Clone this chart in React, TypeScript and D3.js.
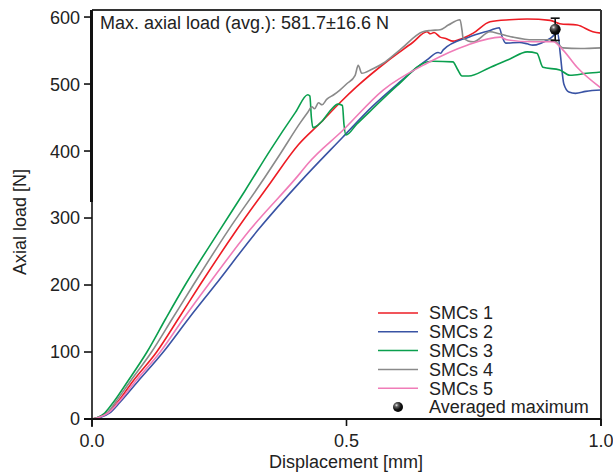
import React from "react";
import * as d3 from "d3";

type P = [number, number];

const smcs1: P[] = [[0,0],[0.01,2],[0.03,9],[0.05,25],[0.08,56],[0.127,100],[0.17,150],[0.212,200],[0.284,282],[0.35,352],[0.405,409],[0.45,443],[0.487,472],[0.52,496],[0.58,534],[0.63,562],[0.658,578],[0.665,575],[0.672,577],[0.684,570],[0.695,568],[0.709,564],[0.72,566],[0.749,576],[0.782,593],[0.82,596],[0.855,597],[0.9,595],[0.919,590],[0.953,588],[0.984,578],[1.0,576]];
const smcs2: P[] = [[0,0],[0.015,2],[0.035,9],[0.055,25],[0.09,56],[0.14,100],[0.19,150],[0.242,200],[0.326,282],[0.409,354],[0.493,421],[0.55,466],[0.6,500],[0.658,536],[0.68,547],[0.685,546],[0.69,551],[0.74,570],[0.782,580],[0.8,584],[0.806,570],[0.813,561],[0.84,562],[0.855,560],[0.866,558],[0.9,568],[0.915,576],[0.92,545],[0.927,500],[0.937,488],[0.95,486],[0.97,489],[1.0,491]];
const smcs3: P[] = [[0,0],[0.01,2],[0.025,9],[0.042,25],[0.07,56],[0.108,100],[0.145,150],[0.183,200],[0.251,282],[0.3,340],[0.35,401],[0.4,458],[0.424,484],[0.428,482],[0.431,450],[0.434,435],[0.45,443],[0.47,462],[0.483,470],[0.492,468],[0.495,440],[0.499,424],[0.52,440],[0.55,462],[0.6,498],[0.658,533],[0.67,534],[0.709,533],[0.718,522],[0.727,512],[0.74,512],[0.78,524],[0.82,537],[0.855,548],[0.874,546],[0.886,525],[0.919,521],[0.939,513],[0.972,516],[1.0,518]];
const smcs4: P[] = [[0,0],[0.01,2],[0.03,9],[0.046,25],[0.075,56],[0.117,100],[0.158,150],[0.199,200],[0.268,282],[0.33,350],[0.37,396],[0.409,442],[0.424,458],[0.432,466],[0.437,463],[0.445,472],[0.452,469],[0.461,477],[0.475,484],[0.487,491],[0.5,500],[0.517,513],[0.523,528],[0.53,516],[0.55,522],[0.572,531],[0.605,551],[0.65,578],[0.665,580],[0.684,581],[0.7,588],[0.723,596],[0.727,580],[0.729,569],[0.749,563],[0.782,578],[0.8,575],[0.827,570],[0.866,566],[0.906,566],[0.925,554],[0.96,553],[1.0,554]];
const smcs5: P[] = [[0,0],[0.012,2],[0.032,9],[0.052,25],[0.085,56],[0.134,100],[0.18,150],[0.228,200],[0.31,282],[0.409,367],[0.424,381],[0.493,431],[0.572,491],[0.658,531],[0.737,558],[0.802,570],[0.815,566],[0.866,563],[0.906,563],[0.925,551],[0.953,525],[1.0,494]];

const seriesNames = ["SMCs 1", "SMCs 2", "SMCs 3", "SMCs 4", "SMCs 5"];
const seriesData = [smcs1, smcs2, smcs3, smcs4, smcs5];
const seriesColors = ["#ed1c24", "#3953a4", "#0a9f4e", "#8a8a8a", "#f07cb8"];

const xTicks = [0, 0.5, 1.0];
const yTicks = [0, 100, 200, 300, 400, 500, 600];
const avgDisp = 0.91;
const avgMax = 581.7;
const avgSd = 16.6;
const annotation = "Max. axial load (avg.): 581.7±16.6 N";
const avgLabel = "Averaged maximum";

const W = 613, H = 474;
const L = 92, R = 601, T = 10, B = 419;
const FONT = "'Liberation Sans', Arial, sans-serif";

export default function App() {
  const x = d3.scaleLinear().domain([0, 1]).range([L, R]);
  const y = d3.scaleLinear().domain([0, 610.5]).range([B, T]);
  const line = d3.line<P>().x(d => x(d[0])).y(d => y(d[1])).curve(d3.curveMonotoneX);

  return (
    <svg width={W} height={H} style={{ position: "absolute", left: 0, top: 0, background: "#fff" }} fontFamily={FONT}>
      <defs>
        <radialGradient id="ball" cx="0.35" cy="0.32" r="0.75">
          <stop offset="0" stopColor="#e8e8e8" />
          <stop offset="0.22" stopColor="#666" />
          <stop offset="0.6" stopColor="#111" />
          <stop offset="1" stopColor="#000" />
        </radialGradient>
        <clipPath id="plotclip">
          <rect x={L} y={T} width={R - L} height={B - T} />
        </clipPath>
      </defs>

      <g clipPath="url(#plotclip)">
        {seriesData.map((s, i) => (
          <path key={i} d={line(s) || ""} fill="none" stroke={seriesColors[i]} strokeWidth={1.6} strokeLinejoin="round" />
        ))}
      </g>

      {/* frame */}
      <line x1={L} x2={R} y1={T} y2={T} stroke="#333" strokeWidth={2} />
      <line x1={R} x2={R} y1={T} y2={B + 7} stroke="#333" strokeWidth={2} />
      <line x1={L - 0.5} x2={L - 0.5} y1={T} y2={202} stroke="#111" strokeWidth={3} />
      <line x1={L} x2={L} y1={200} y2={B + 8} stroke="#111" strokeWidth={1.6} />
      <line x1={L - 8} x2={R} y1={B} y2={B} stroke="#111" strokeWidth={2} />

      {yTicks.map(t => (
        <g key={t}>
          <line x1={L - 8} x2={L} y1={y(t)} y2={y(t)} stroke="#111" strokeWidth={1.6} />
          <text x={80} y={y(t)} dy="0.36em" textAnchor="end" fontSize={18} fill="#222">{t}</text>
        </g>
      ))}
      {xTicks.map(t => (
        <g key={t}>
          <line x1={x(t)} x2={x(t)} y1={B} y2={B + 7} stroke="#111" strokeWidth={1.6} />
          <text x={x(t)} y={447} textAnchor="middle" fontSize={18} fill="#222">{t.toFixed(1)}</text>
        </g>
      ))}

      <text x={346} y={468} textAnchor="middle" fontSize={18} fill="#222">Displacement [mm]</text>
      <text transform={`translate(26,222) rotate(-90)`} textAnchor="middle" fontSize={18} fill="#222">Axial load [N]</text>

      <text x={100} y={29} fontSize={18} fill="#222">{annotation}</text>

      {/* averaged maximum */}
      <g>
        <line x1={x(avgDisp)} x2={x(avgDisp)} y1={y(avgMax - avgSd)} y2={y(avgMax + avgSd)} stroke="#111" strokeWidth={1.6} />
        <line x1={x(avgDisp) - 4.5} x2={x(avgDisp) + 4.5} y1={y(avgMax - avgSd)} y2={y(avgMax - avgSd)} stroke="#111" strokeWidth={1.6} />
        <line x1={x(avgDisp) - 4.5} x2={x(avgDisp) + 4.5} y1={y(avgMax + avgSd)} y2={y(avgMax + avgSd)} stroke="#111" strokeWidth={1.6} />
        <circle cx={x(avgDisp)} cy={y(avgMax)} r={5.5} fill="url(#ball)" />
      </g>

      {/* legend */}
      <g>
        {seriesNames.map((n, i) => {
          const yy = 313 + i * 18.8;
          return (
            <g key={n}>
              <line x1={378} x2={418} y1={yy} y2={yy} stroke={seriesColors[i]} strokeWidth={1.5} />
              <text x={429} y={yy} dy="0.36em" fontSize={18} fill="#222">{n}</text>
            </g>
          );
        })}
        <circle cx={398} cy={313 + 5 * 18.8} r={5} fill="url(#ball)" />
        <text x={429} y={313 + 5 * 18.8} dy="0.36em" fontSize={18} fill="#222">{avgLabel}</text>
      </g>
    </svg>
  );
}
